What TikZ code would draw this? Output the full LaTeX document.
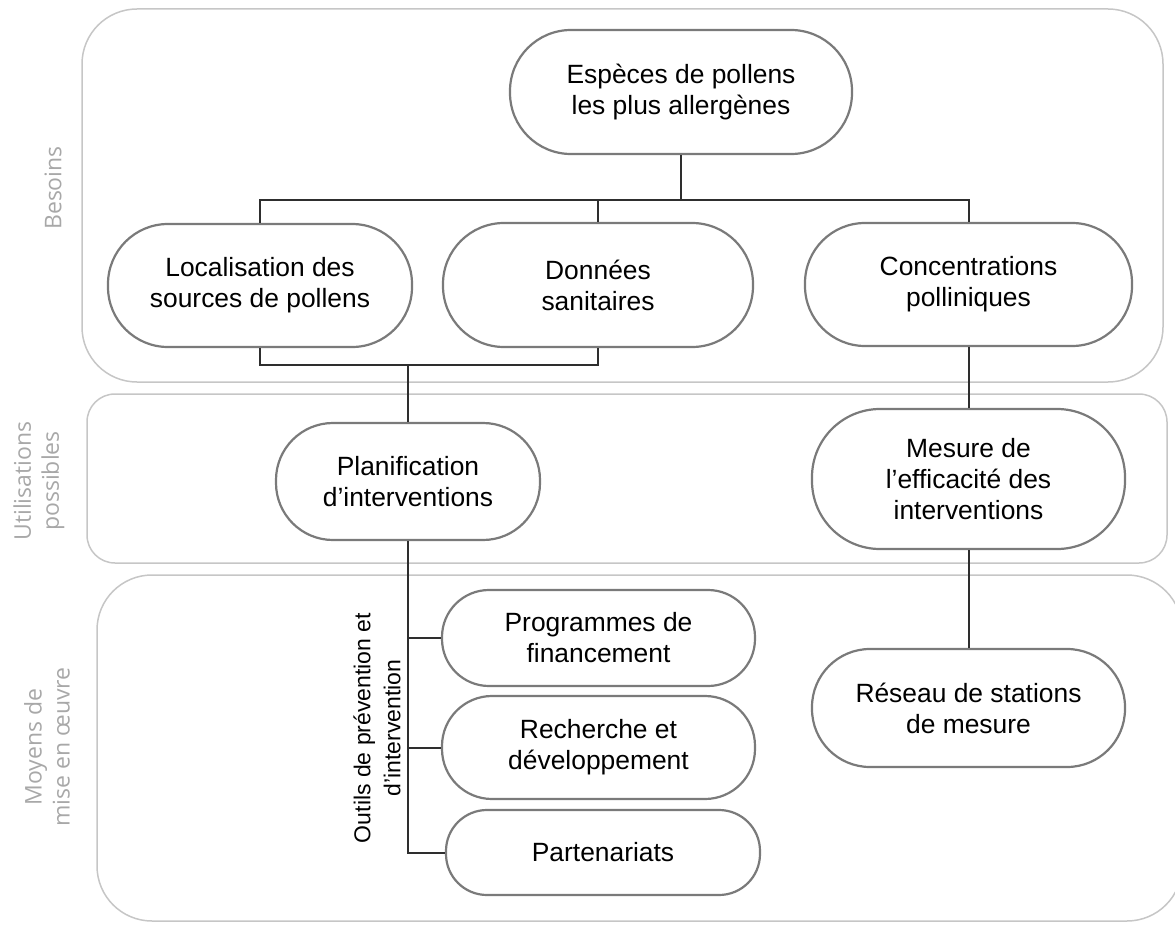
\documentclass[tikz,border=0pt]{standalone}
\usepackage{fontspec}
\setmainfont{Liberation Sans}
\newfontfamily\grisfont{Open Sans}
\definecolor{bord}{HTML}{7A7A7A}
\definecolor{cadre}{HTML}{C6C6C6}
\definecolor{trait}{HTML}{2E2E2E}
\definecolor{etiq}{HTML}{A8A8A8}
\tikzset{
  bulle/.style={rectangle, draw=bord, line width=2.2pt, fill=white, align=center, inner sep=0pt,
    font=\fontsize{26.4}{31}\selectfont},
  taille/.style n args={3}{minimum width=#1pt, minimum height=#2pt, rounded corners=#3pt},
  zone/.style={draw=cadre, line width=1.5pt},
  lien/.style={draw=trait, line width=2pt},
  rubrique/.style={text=etiq, rotate=90, align=center, font=\grisfont\fontsize{23}{28}\selectfont}
}
\begin{document}
\begin{tikzpicture}[x=1pt,y=-1pt]
\useasboundingbox (0,0) rectangle (1175,928);
% les trois zones
\draw[zone, rounded corners=55pt] (82,9) rectangle (1163,382);
\draw[zone, rounded corners=28pt] (87,394) rectangle (1167,563);
\draw[zone, rounded corners=55pt] (97,575) rectangle (1182,921);
\node[rubrique] (besoins) at (53,188) {Besoins};
\node[rubrique] (utilisations) at (39,481) {Utilisations\\possibles};
\node[rubrique] (moyens) at (47,747) {Moyens de\\mise en œuvre};
% besoins
\node[bulle, taille={342}{124}{61}] (esp) at (681,92) {Espèces de pollens\\les plus allergènes};
\node[bulle, taille={304}{123}{60}] (loc) at (260,285.5) {Localisation des\\sources de pollens};
\node[bulle, taille={310}{124}{61}] (don) at (598,285) {Données\\sanitaires};
\node[bulle, taille={327}{123}{60}] (conc) at (968.5,284.5) {Concentrations\\polliniques};
% utilisations
\node[bulle, taille={264}{117}{57}] (plan) at (408,481.5) {Planification\\d’interventions};
\node[bulle, taille={313}{140}{68}] (mes) at (968.5,479) {Mesure de\\l’efficacité des\\interventions};
% moyens
\node[bulle, taille={313}{96}{47}] (prog) at (598.5,638) {Programmes de\\financement};
\node[bulle, taille={313}{103}{50}] (rech) at (598.5,747.5) {Recherche et\\développement};
\node[bulle, taille={314}{85}{41}] (part) at (603,852.5) {Partenariats};
\node[bulle, taille={313}{118}{58}] (res) at (968.5,708) {Réseau de stations\\de mesure};
\node[rotate=90, align=center, font=\fontsize{23}{30}\selectfont] (outils) at (377,728)
  {Outils de prévention et\\d’intervention};
% liens
\coordinate (haut) at (681,200);
\coordinate (jonc) at (408,365);
\draw[lien] (esp.south) -- (haut);
\draw[lien] (loc.north) |- (haut);
\draw[lien] (conc.north) |- (haut);
\draw[lien] (don.north) -- (don.north |- haut);
\draw[lien] (loc.south) |- (jonc) -| (don.south);
\draw[lien] (jonc) -- (plan.north);
\draw[lien] (conc.south) -- (mes.north);
\draw[lien] (mes.south) -- (res.north);
\draw[lien] (plan.south) |- (part.west);
\draw[lien] (prog.west) -- (prog.west -| plan.south);
\draw[lien] (rech.west) -- (rech.west -| plan.south);
\end{tikzpicture}
\end{document}
